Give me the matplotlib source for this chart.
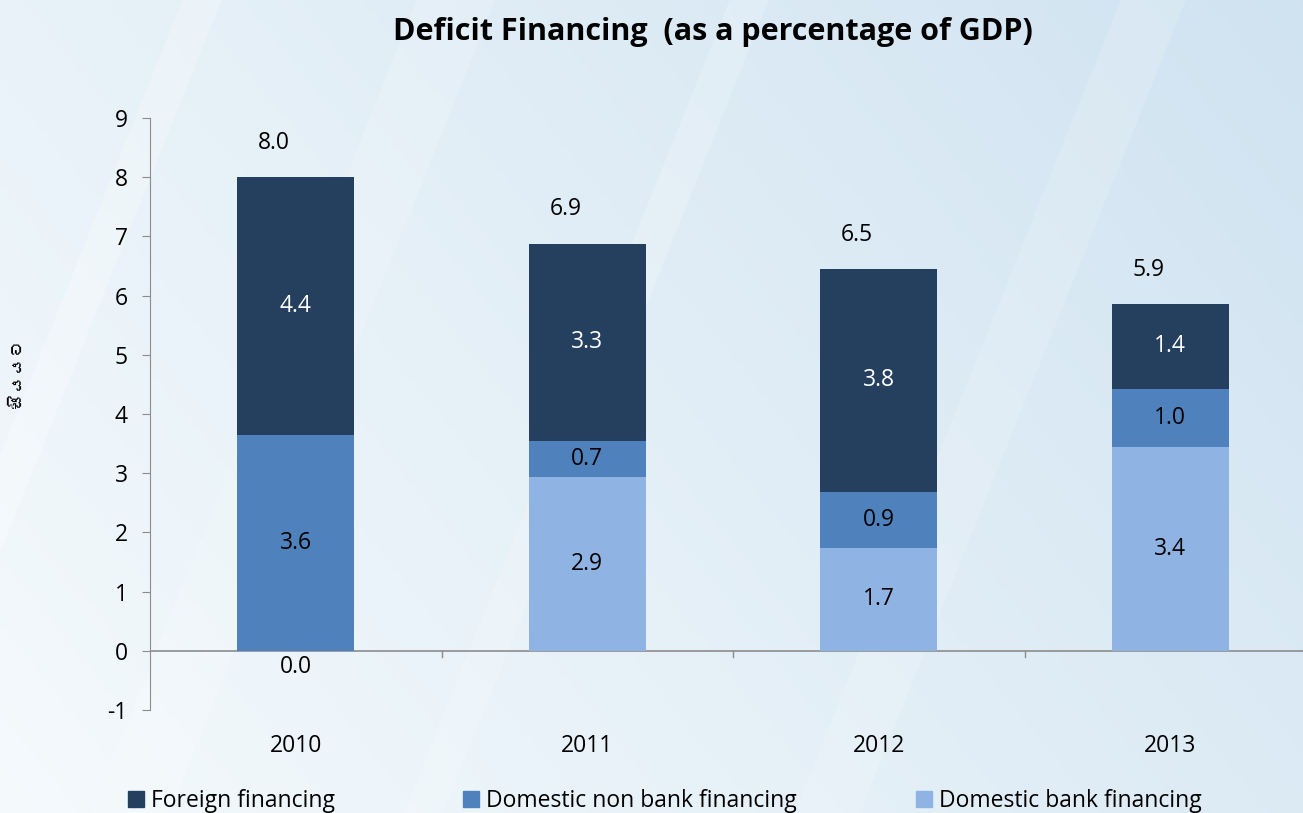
import matplotlib
matplotlib.use("Agg")
import matplotlib.pyplot as plt
import numpy as np
from matplotlib import font_manager
from matplotlib.ft2font import FT2Font
from matplotlib.patches import Patch

years = ["2010", "2011", "2012", "2013"]
bank = [0.0, 2.94, 1.74, 3.44]
nonbank = [3.65, 0.61, 0.95, 0.99]
foreign = [4.35, 3.33, 3.76, 1.43]
bank_lbl = ["0.0", "2.9", "1.7", "3.4"]
nonbank_lbl = ["3.6", "0.7", "0.9", "1.0"]
foreign_lbl = ["4.4", "3.3", "3.8", "1.4"]
total_lbl = ["8.0", "6.9", "6.5", "5.9"]
ylabel = "සියයට"

plt.rcParams["font.family"] = ["Open Sans", "DejaVu Sans"]

# look for any installed font with Sinhala glyphs
sinhala = None
for f in font_manager.fontManager.ttflist:
    try:
        if 0x0DC3 in FT2Font(f.fname).get_charmap():
            sinhala = f.name
            break
    except Exception:
        pass

fig = plt.figure(figsize=(13.03, 8.13), dpi=100)

# background gradient
bg = fig.add_axes([0, 0, 1, 1], zorder=-10)
gx = np.linspace(0, 1, 300)
gy = np.linspace(0, 1, 200)
X, Y = np.meshgrid(gx, gy)
t = np.clip(0.6 * X + 0.3 * (1 - Y), 0, 1)
c0 = np.array([0.96, 0.98, 0.99])
c1 = np.array([0.80, 0.88, 0.94])
img = c0[None, None, :] * (1 - t[..., None]) + c1[None, None, :] * t[..., None]
bg.imshow(img, aspect="auto", extent=[0, 1, 0, 1], origin="upper")
for x0, w, a in [(0.14, 0.03, 0.25), (0.32, 0.06, 0.15), (0.56, 0.03, 0.2), (0.86, 0.05, 0.15)]:
    bg.fill([x0, x0 + w, x0 + w - 0.25, x0 - 0.25], [1, 1, 0, 0], color="white", alpha=a, lw=0)
bg.set_xlim(0, 1); bg.set_ylim(0, 1)
bg.axis("off")

ax = fig.add_axes([150 / 1303, 1 - 710 / 813, (1316 - 150) / 1303, (710 - 118) / 813])
ax.patch.set_alpha(0)
x = np.arange(len(years))
w = 0.4
c_for, c_non, c_bank = "#253f5e", "#4f81bd", "#8fb4e3"
ax.bar(x, bank, w, color=c_bank, zorder=2)
ax.bar(x, nonbank, w, bottom=bank, color=c_non, zorder=2)
b2 = np.array(bank) + np.array(nonbank)
ax.bar(x, foreign, w, bottom=b2, color=c_for, zorder=2)
tot = b2 + np.array(foreign)

fs = 16.5
for i in range(len(years)):
    if bank[i] > 0:
        ax.text(x[i], bank[i] / 2, bank_lbl[i], ha="center", va="center", fontsize=fs, color="black", zorder=3)
    else:
        ax.text(x[i], -0.27, bank_lbl[i], ha="center", va="center", fontsize=fs, color="black", zorder=3)
    ax.text(x[i], bank[i] + nonbank[i] / 2, nonbank_lbl[i], ha="center", va="center", fontsize=fs, color="black", zorder=3)
    ax.text(x[i], b2[i] + foreign[i] / 2, foreign_lbl[i], ha="center", va="center", fontsize=fs, color="white", zorder=3)
    ax.text(x[i] - 0.075, tot[i] + 0.58, total_lbl[i], ha="center", va="center", fontsize=fs, color="black", zorder=3)

ax.set_xlim(-0.5, 3.5)
ax.set_ylim(-1, 9)
ax.set_yticks(range(-1, 10))
ax.set_yticklabels([str(v) for v in range(-1, 10)], fontsize=fs)
ax.tick_params(axis="y", direction="out", length=6, color="#8c8c8c", pad=10)
for s in ["top", "right", "bottom"]:
    ax.spines[s].set_visible(False)
ax.spines["left"].set_color("#8c8c8c")
ax.axhline(0, color="#8c8c8c", lw=1.2, zorder=1)
# x ticks hang from the zero line
ax.set_xticks([])
for xb in [0.5, 1.5, 2.5]:
    ax.plot([xb, xb], [0, -0.1], color="#8c8c8c", lw=1, clip_on=False)
for i, yr in enumerate(years):
    ax.text(x[i], -1.6, yr, ha="center", va="center", fontsize=fs, clip_on=False)

fig.text(713 / 1303, 1 - 32 / 813, "Deficit Financing  (as a percentage of GDP)",
         ha="center", va="center", fontsize=22, fontweight="bold")
fam = [sinhala, "DejaVu Sans"] if sinhala else ["DejaVu Sans"]
fig.text(18 / 1303, 1 - 372 / 813, ylabel, rotation=90, ha="center", va="center",
         fontsize=13, family=fam)

handles = [Patch(color=c_for), Patch(color=c_non), Patch(color=c_bank)]
names = ["Foreign financing", "Domestic non bank financing", "Domestic bank financing"]
for h, n, xp in zip(handles, names, [128, 463, 916]):
    fig.legend([h], [n], loc="center left", bbox_to_anchor=(xp / 1303, 1 - 801 / 813),
               frameon=False, fontsize=fs, handlelength=0.7, handleheight=0.7,
               handletextpad=0.3, borderaxespad=0, borderpad=0)

fig.savefig("out.png", dpi=100)
